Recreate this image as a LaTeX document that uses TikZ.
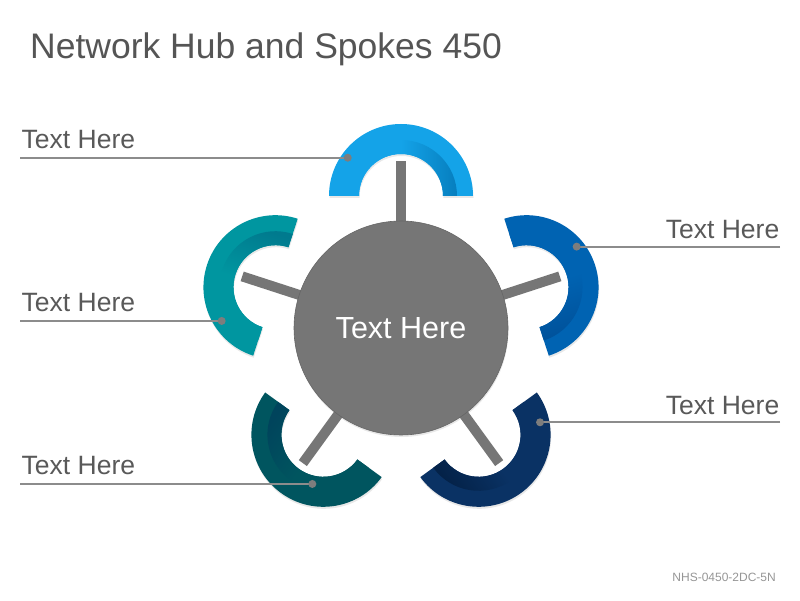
\documentclass[tikz,border=0pt]{standalone}
\usepackage{fontspec}
\setmainfont{Liberation Sans}
\usetikzlibrary{calc,shadows}
\definecolor{hubgray}{RGB}{118,118,118}
\definecolor{hubedge}{RGB}{102,102,102}
\definecolor{linegray}{RGB}{140,140,140}
\definecolor{dotgray}{RGB}{125,125,125}
\definecolor{titlegray}{RGB}{85,85,85}
\definecolor{textgray}{RGB}{89,89,89}
\definecolor{codegray}{RGB}{150,150,150}
\definecolor{skyblue}{RGB}{20,163,232}
\definecolor{skybluedk}{RGB}{6,126,190}
\definecolor{royalblue}{RGB}{0,99,178}
\definecolor{royalbluedk}{RGB}{0,82,155}
\definecolor{navyblue}{RGB}{10,50,100}
\definecolor{navybluedk}{RGB}{4,34,72}
\definecolor{deepteal}{RGB}{0,85,95}
\definecolor{deeptealdk}{RGB}{0,68,92}
\definecolor{brightteal}{RGB}{0,150,160}
\definecolor{brighttealdk}{RGB}{0,122,142}

\begin{document}
\begin{tikzpicture}[x=1pt, y=1pt,
  spoke/.style={draw=hubgray, line width=10pt},
  leader/.style={draw=linegray, line width=2.2pt},
  dotmark/.style={circle, fill=dotgray, inner sep=0pt, minimum size=8pt},
  lbl/.style={font=\fontsize{26.5}{31}\selectfont, text=textgray, inner sep=0pt},
  softshadow/.style={drop shadow={opacity=0.18, shadow xshift=0.5pt, shadow yshift=-2pt}}]
  \useasboundingbox[fill=white] (0,0) rectangle (800,600);
  \node[font=\fontsize{35.5}{42}\selectfont, text=titlegray, anchor=base west, inner sep=0pt] (title) at (30,541) {Network Hub and Spokes 450};

  % spokes and hub
  \coordinate (hubc) at (401,272);
  \foreach \a/\n in {90/1, 18/2, -54/3, -126/4, 162/5}
    \draw[spoke] (hubc) -- ++(\a:167pt) coordinate (s\n);
  \node[circle, minimum size=214pt, fill=hubgray, draw=hubedge, line width=0.6pt, softshadow,
        text=white, font=\fontsize{30.5}{36}\selectfont] (hub) at (hubc) {Text Here};

  % half rings
  \foreach \a/\c/\d/\n in {90/skyblue/skybluedk/1, 18/royalblue/royalbluedk/2, -54/navyblue/navybluedk/3,
                           -126/deepteal/deeptealdk/4, 162/brightteal/brighttealdk/5} {
    \coordinate (c\n) at ($(hubc)+(\a:132pt)$);
    \fill[\c, softshadow] ($(c\n)+(\a-90:72pt)$) arc[start angle=\a-90, end angle=\a+90, radius=72pt]
      -- ($(c\n)+(\a+90:42pt)$) arc[start angle=\a+90, end angle=\a-90, radius=42pt] -- cycle;
    \shade[top color=\c, bottom color=\d, middle color=\c, shading angle=\a]
      ($(c\n)+(\a-90:56pt)$) arc[start angle=\a-90, end angle=\a+90, radius=56pt]
      -- ($(c\n)+(\a+90:42pt)$) arc[start angle=\a+90, end angle=\a-90, radius=42pt] -- cycle;
  }

  % leaders
  \foreach \n/\da/\dr in {1/144.3/65.6, 2/39/64.5, 3/11.5/62.7, 4/257.3/50.4, 5/212.1/63.5}
    \coordinate (p\n) at ($(c\n)+(\da:\dr pt)$);
  \coordinate (e1) at (20,0 |- p1);
  \coordinate (e2) at (780,0 |- p2);
  \coordinate (e3) at (780,0 |- p3);
  \coordinate (e4) at (20,0 |- p4);
  \coordinate (e5) at (20,0 |- p5);
  \foreach \n in {1,...,5} {
    \draw[leader] (e\n) -- (p\n);
    \node[dotmark] (dot\n) at (p\n) {};
  }

  \node[lbl, anchor=base west] (t1) at ([xshift=1.5pt, yshift=9pt]e1) {Text Here};
  \node[lbl, anchor=base east] (t2) at ([xshift=-0.5pt, yshift=8pt]e2) {Text Here};
  \node[lbl, anchor=base east] (t3) at ([xshift=-0.5pt, yshift=8pt]e3) {Text Here};
  \node[lbl, anchor=base west] (t4) at ([xshift=1.5pt, yshift=9pt]e4) {Text Here};
  \node[lbl, anchor=base west] (t5) at ([xshift=1.5pt, yshift=9pt]e5) {Text Here};

  \node[font=\fontsize{12}{14}\selectfont, text=codegray, anchor=base east, inner sep=0pt] (code) at (776,19) {NHS-0450-2DC-5N};
\end{tikzpicture}
\end{document}
